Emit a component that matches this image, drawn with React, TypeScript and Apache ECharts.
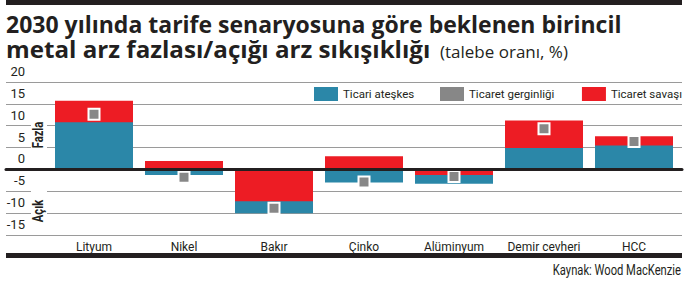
import React, { useEffect, useRef } from "react";
import * as echarts from "echarts";

const categories = ["Lityum", "Nikel", "Bakır", "Çinko", "Alüminyum", "Demir cevheri", "HCC"];
// Ticari ateşkes (trade truce)
const truce = [10.8, -1.3, -10.0, -3.0, -3.3, 4.9, 5.5];
// Ticaret gerginliği (trade tension)
const tension = [12.6, -1.8, -8.9, -2.9, -1.6, 9.3, 6.4];
// Ticaret savaşı (trade war)
const war = [15.7, 1.9, -7.3, 3.0, -1.3, 11.2, 7.6];
const yMin = -15;
const yMax = 20;
const yStep = 5;

const seriesNames = ["Ticari ateşkes", "Ticaret gerginliği", "Ticaret savaşı"];

const BLUE = "#2b87a8";
const RED = "#ed1c24";
const GRAY = "#878787";
const INK = "#231f20";
const SANS = 'Roboto, "Liberation Sans", sans-serif';
const TITLE_FONT = '"Open Sans", Roboto, sans-serif';

// red drawn in front of blue when both share a sign and red is the smaller magnitude
const warFront = war.map((w, i) =>
  Math.sign(w) === Math.sign(truce[i]) && Math.abs(w) < Math.abs(truce[i]) ? w : "-"
);

export default function App() {
  const ref = useRef<HTMLDivElement>(null);
  useEffect(() => {
    if (!ref.current) return;
    const chart = echarts.init(ref.current, undefined, { renderer: "svg" });
    const legendBase = {
      orient: "horizontal",
      top: 87,
      padding: 0,
      itemWidth: 24,
      itemHeight: 14,
      icon: "rect",
      selectedMode: false,
      textStyle: { fontFamily: SANS, fontSize: 11.5, color: INK },
    };
    chart.setOption({
      animation: false,
      grid: [
        { left: 6, right: 6, top: 82, bottom: 46 },
        { left: 49, right: 9, top: 82, bottom: 46 },
      ],
      xAxis: [
        {
          gridIndex: 0,
          type: "value",
          min: 0,
          max: 1,
          z: 10,
          axisLine: { show: true, onZero: true, lineStyle: { color: INK, width: 3 } },
          axisTick: { show: false },
          axisLabel: { show: false },
          splitLine: { show: false },
        },
        {
          gridIndex: 1,
          type: "category",
          data: categories,
          axisLine: { show: false },
          axisTick: { show: false },
          axisLabel: { interval: 0, margin: 6, fontFamily: SANS, fontSize: 12, color: INK },
        },
      ],
      yAxis: [
        {
          gridIndex: 0,
          type: "value",
          min: yMin,
          max: yMax,
          interval: yStep,
          axisLine: { show: false },
          axisTick: { show: false },
          splitLine: { show: true, lineStyle: { color: "#9a9a9a", width: 1 } },
          axisLabel: {
            inside: true,
            margin: 19,
            align: "right",
            verticalAlign: "bottom",
            lineHeight: 13,
            padding: [0, 0, 4, 0],
            fontFamily: SANS,
            fontSize: 13,
            color: INK,
          },
        },
        { gridIndex: 1, type: "value", min: yMin, max: yMax, interval: yStep, show: false },
      ],
      legend: [
        { ...legendBase, left: 314, data: [{ name: seriesNames[0] }] },
        { ...legendBase, left: 440, data: [{ name: seriesNames[1], itemStyle: { borderWidth: 0 } }] },
        { ...legendBase, right: 6, data: [{ name: seriesNames[2] }] },
      ],
      series: [
        {
          name: seriesNames[2],
          type: "bar",
          xAxisIndex: 1,
          yAxisIndex: 1,
          data: war,
          barWidth: 78,
          barGap: "-100%",
          itemStyle: { color: RED },
          z: 2,
        },
        {
          name: seriesNames[0],
          type: "bar",
          xAxisIndex: 1,
          yAxisIndex: 1,
          data: truce,
          barWidth: 78,
          barGap: "-100%",
          itemStyle: { color: BLUE },
          z: 3,
        },
        {
          name: seriesNames[2],
          type: "bar",
          xAxisIndex: 1,
          yAxisIndex: 1,
          data: warFront,
          barWidth: 78,
          barGap: "-100%",
          itemStyle: { color: RED },
          z: 4,
        },
        {
          name: seriesNames[1],
          type: "scatter",
          xAxisIndex: 1,
          yAxisIndex: 1,
          data: tension,
          symbol: "rect",
          symbolSize: 11,
          itemStyle: { color: GRAY, borderColor: "#ffffff", borderWidth: 2, opacity: 1 },
          z: 5,
        },
      ],
      graphic: [
        { type: "rect", z: 100, shape: { x: 6, y: 0, width: 676, height: 5 }, style: { fill: INK } },
        { type: "rect", z: 100, shape: { x: 6, y: 253, width: 676, height: 5 }, style: { fill: INK } },
        {
          type: "text",
          z: 100,
          x: 6,
          y: 12,
          style: {
            text: "2030 yılında tarife senaryosuna göre beklenen birincil",
            fontFamily: TITLE_FONT,
            fontWeight: "bold",
            fontSize: 23,
            lineHeight: 23,
            fill: INK,
            verticalAlign: "top",
          },
        },
        {
          type: "text",
          z: 100,
          x: 6,
          y: 38,
          scaleX: 1.05,
          style: {
            text: "metal arz fazlası/açığı arz sıkışıklığı",
            fontFamily: TITLE_FONT,
            fontWeight: "bold",
            fontSize: 23,
            lineHeight: 23,
            fill: INK,
            verticalAlign: "top",
          },
        },
        {
          type: "text",
          z: 100,
          x: 440,
          y: 43,
          style: {
            text: "(talebe oranı, %)",
            fontFamily: TITLE_FONT,
            fontWeight: "normal",
            fontSize: 17,
            lineHeight: 17,
            fill: INK,
            verticalAlign: "top",
          },
        },
        { type: "rect", z: 100, shape: { x: 31, y: 114, width: 16, height: 44 }, style: { fill: "#ffffff" } },
        {
          type: "text",
          z: 101,
          x: 38,
          y: 135,
          rotation: Math.PI / 2,
          scaleX: 0.75,
          style: {
            text: "Fazla",
            fontFamily: SANS,
            fontWeight: "bold",
            fontSize: 15,
            fill: INK,
            align: "center",
            verticalAlign: "middle",
          },
        },
        { type: "rect", z: 100, shape: { x: 31, y: 186, width: 16, height: 43 }, style: { fill: "#ffffff" } },
        {
          type: "text",
          z: 101,
          x: 38,
          y: 211,
          rotation: Math.PI / 2,
          scaleX: 0.75,
          style: {
            text: "Açık",
            fontFamily: SANS,
            fontWeight: "bold",
            fontSize: 15,
            fill: INK,
            align: "center",
            verticalAlign: "middle",
          },
        },
        {
          type: "text",
          z: 100,
          x: 681,
          y: 270,
          scaleX: 0.8,
          style: {
            text: "Kaynak: Wood MacKenzie",
            fontFamily: SANS,
            fontSize: 14,
            fill: INK,
            align: "right",
            verticalAlign: "middle",
          },
        },
      ],
    });
    return () => chart.dispose();
  }, []);
  return (
    <div
      ref={ref}
      style={{ position: "absolute", left: 0, top: 0, width: 688, height: 281, background: "#ffffff" }}
    />
  );
}
